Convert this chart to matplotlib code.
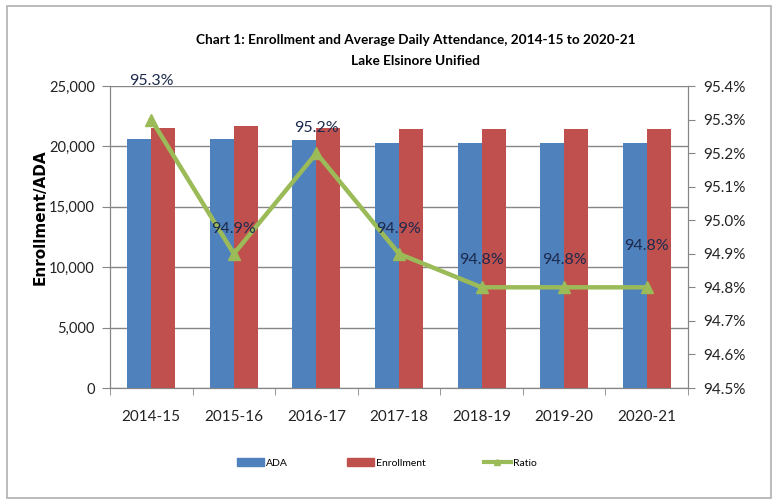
"""Enrollment and ADA bar chart with attendance ratio line."""
import matplotlib
matplotlib.use('agg')
import matplotlib.pyplot as plt
from matplotlib.patches import Rectangle
from matplotlib.lines import Line2D
import numpy as np

years = ['2014-15', '2015-16', '2016-17', '2017-18', '2018-19', '2019-20', '2020-21']
ada = [20600, 20600, 20500, 20300, 20250, 20250, 20250]
enrollment = [21550, 21700, 21550, 21400, 21400, 21400, 21400]
ratio = [95.3, 94.9, 95.2, 94.9, 94.8, 94.8, 94.8]

BLUE = '#4F81BD'
RED = '#C0504D'
GREEN = '#9BBB59'
GRID = '#868686'

plt.rcParams['font.family'] = ['Lato', 'DejaVu Sans']


def plot_chart():
    fig = plt.figure(figsize=(7.78, 5.0), dpi=100)
    fig.patches.append(Rectangle((0.009, 0.004), 0.982, 0.984,
                                 transform=fig.transFigure, fill=False,
                                 edgecolor='#b0b0b0', linewidth=1.2))

    ax = fig.add_axes([0.1414, 0.224, 0.7429, 0.604])
    x = np.arange(len(years))
    w = 0.29
    ax.bar(x - w / 2, ada, w, color=BLUE, zorder=3, label='ADA')
    ax.bar(x + w / 2, enrollment, w, color=RED, zorder=3, label='Enrollment')

    ax.set_xlim(-0.5, len(years) - 0.5)
    ax.set_ylim(0, 25000)
    ax.set_yticks(np.arange(0, 25001, 5000))
    ax.yaxis.set_major_formatter(matplotlib.ticker.StrMethodFormatter('{x:,.0f}'))
    ax.yaxis.grid(True, color=GRID, linewidth=1.0, zorder=0)
    ax.set_axisbelow(True)

    ax.set_xticks(x)
    ax.set_xticklabels(years)
    ax.set_xticks(np.arange(-0.5, len(years)), minor=True)
    ax.tick_params(axis='x', which='major', length=0, pad=16, labelsize=11,
                   colors='#222222')
    ax.tick_params(axis='x', which='minor', length=5, color=GRID, direction='out')
    ax.tick_params(axis='y', length=6, color=GRID, labelsize=10.5, colors='#222222',
                   pad=5)
    ax.spines['top'].set_visible(False)
    for side in ('left', 'bottom', 'right'):
        ax.spines[side].set_color(GRID)
    ax.set_ylabel('Enrollment/ADA', family='DejaVu Sans', fontweight='bold',
                  fontsize=11)
    ax.yaxis.set_label_coords(-0.108, 0.566)

    ax2 = ax.twinx()
    ax2.plot(x, ratio, color=GREEN, linewidth=3.2, marker='^', markersize=9,
             zorder=4)
    ax2.set_ylim(94.5, 95.4)
    ax2.set_yticks(np.arange(94.5, 95.41, 0.1))
    ax2.yaxis.set_major_formatter(matplotlib.ticker.StrMethodFormatter('{x:.1f}%'))
    ax2.tick_params(axis='y', length=5, color=GRID, labelsize=11, colors='#222222',
                    pad=6)
    ax2.spines['top'].set_visible(False)
    for side in ('left', 'bottom', 'right'):
        ax2.spines[side].set_color(GRID)

    # label offsets in points above each marker
    offsets = [28, 18, 18, 18, 20, 20, 30]
    for xi, r, off in zip(x, ratio, offsets):
        ax2.annotate('{:.1f}%'.format(r), (xi, r), xytext=(0, off),
                     textcoords='offset points', ha='center', va='center',
                     fontsize=11.5, color='#1c2a4d', zorder=5)

    fig.text(0.534, 0.921, 'Chart 1: Enrollment and Average Daily Attendance, 2014-15 to 2020-21',
             ha='center', va='center', fontsize=9.8, fontweight='bold')
    fig.text(0.534, 0.878, 'Lake Elsinore Unified',
             ha='center', va='center', fontsize=9.8, fontweight='bold')

    handles = [Rectangle((0, 0), 1, 1, color=BLUE),
               Rectangle((0, 0), 1, 1, color=RED),
               Line2D([], [], color=GREEN, linewidth=3, marker='^', markersize=5)]
    fig.legend(handles, ['ADA', 'Enrollment', 'Ratio'], loc='center left',
               bbox_to_anchor=(0.305, 0.074), ncol=3, frameon=False,
               fontsize=7.5, handlelength=2.6, handleheight=0.7,
               columnspacing=5.6, handletextpad=0.2, borderpad=0,
               borderaxespad=0)
    return fig


def main():
    fig = plot_chart()
    fig.savefig('out.png', dpi=100)


if __name__ == '__main__':
    main()
